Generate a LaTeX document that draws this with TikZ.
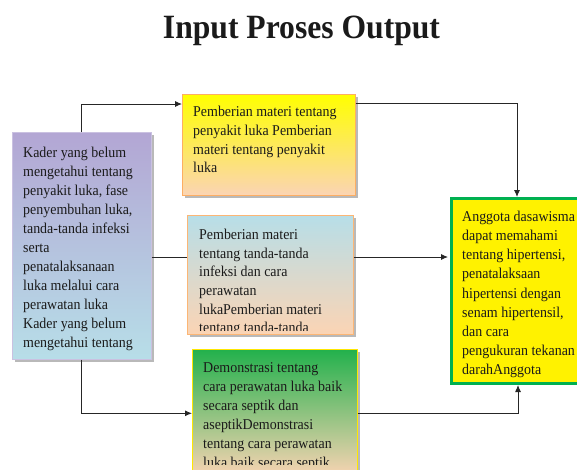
\documentclass[tikz,border=0pt]{standalone}
\usepackage{fontspec}
\setmainfont[FakeStretch=0.93]{Liberation Serif}
\usetikzlibrary{shadows,arrows.meta}
\definecolor{peach}{HTML}{FBD4B4}
\definecolor{lpurple}{HTML}{B3A6D4}
\definecolor{lblue}{HTML}{B7DEE8}
\definecolor{dgreen}{HTML}{22B14C}
\definecolor{bgreen}{HTML}{00B050}
\definecolor{txt}{HTML}{1A1A1A}
\begin{document}
\begin{tikzpicture}[x=1pt,y=-1pt,
  box/.style={draw, line width=0.6pt, inner sep=0pt, anchor=north west,
    drop shadow={shadow xshift=2.5pt,shadow yshift=-2.5pt,fill=black!50,opacity=0.55}},
  txtbox/.style={inner sep=0pt, anchor=north west, align=left, text=txt},
  conn/.style={draw=black!85, line width=0.9pt},
  arr/.style={conn,-{Latex[length=7pt,width=6pt]}}]
\useasboundingbox (0,0) rectangle (577,469);
\clip (0,0) rectangle (577,469);

\node[font=\fontsize{34}{38}\selectfont\bfseries, text=txt, anchor=base] (title) at (301.5,38) {Input Proses Output};

% boxes
\node[box, draw=lpurple!70!white, top color=lpurple, bottom color=lblue,
      minimum width=139pt, minimum height=227pt] (L) at (12,132) {};
\node[box, draw=orange!45!peach, top color=yellow, bottom color=peach,
      minimum width=173pt, minimum height=101pt] (B1) at (182,94) {};
\node[box, draw=orange!35!peach, top color=lblue, bottom color=peach,
      minimum width=166pt, minimum height=119pt] (B2) at (187,215) {};
\node[box, draw=yellow!90!orange, top color=dgreen, bottom color=peach,
      minimum width=165pt, minimum height=128pt] (B3) at (192,349) {};
\node[draw=bgreen, line width=3pt, fill=yellow, inner sep=0pt, anchor=north west,
      minimum width=140pt, minimum height=185pt] (R) at (449.5,197) {};

% texts
\node[txtbox, font=\fontsize{15}{19}\selectfont] (Lt) at (23,146.5)
 {Kader yang belum\\ mengetahui tentang\\ penyakit luka, fase\\ penyembuhan luka,\\
  tanda-tanda infeksi\\ serta\\ penatalaksanaan\\ luka melalui cara\\ perawatan luka\\
  Kader yang belum\\ mengetahui tentang};
\node[txtbox, font=\fontsize{15}{18.7}\selectfont] (B1t) at (193,106)
 {Pemberian materi tentang\\ penyakit luka Pemberian\\ materi tentang penyakit\\ luka};
\begin{scope}
\clip (B2.north west) rectangle ([yshift=4.5pt]B2.south east);
\node[txtbox, font=\fontsize{15}{18.6}\selectfont] (B2t) at (199,229)
 {Pemberian materi\\ tentang tanda-tanda\\ infeksi dan cara\\ perawatan\\ lukaPemberian materi\\ tentang tanda-tanda};
\end{scope}
\begin{scope}
\clip (B3.north west) rectangle (B3.east |- 0,464);
\node[txtbox, font=\fontsize{15}{19}\selectfont] (B3t) at (203,362)
 {Demonstrasi tentang\\ cara perawatan luka baik\\ secara septik dan\\ aseptikDemonstrasi\\ tentang cara perawatan\\ luka baik secara septik};
\end{scope}
\node[txtbox, font=\fontsize{15}{19.1}\selectfont] (Rt) at (462,211)
 {Anggota dasawisma\\ dapat memahami\\ tentang hipertensi,\\ penatalaksaan\\ hipertensi dengan\\ senam hipertensil,\\ dan cara\\ pengukuran tekanan\\ darahAnggota};

% connectors
\coordinate (mid) at (0,257);
\draw[arr] ([xshift=69pt]L.north west) |- ([yshift=-10pt]B1.north west);
\draw[arr] ([yshift=-9pt]B1.north east) -| ([xshift=67.5pt]R.north west);
\draw[conn] (L.east |- mid) -- (B2.west |- mid);
\draw[arr] (B2.east |- mid) -- ([xshift=-1.5pt]R.west |- mid);
\draw[arr] ([xshift=69pt]L.south west) |- (B3.west);
\draw[arr] (B3.east) -| ([xshift=68.5pt]R.south west);
\end{tikzpicture}
\end{document}
